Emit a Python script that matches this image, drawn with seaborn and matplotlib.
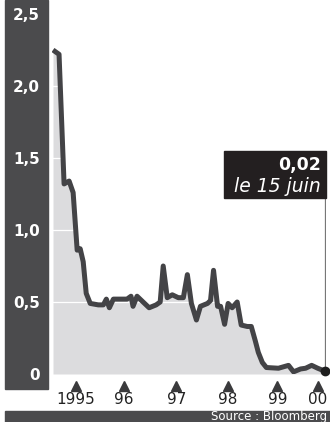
import matplotlib
matplotlib.use("Agg")
import matplotlib.pyplot as plt
import matplotlib.transforms as mtransforms
from matplotlib.patches import Rectangle
import numpy as np
import pandas as pd
import seaborn as sns

# taux (en %)
dates = [1995.04, 1995.16, 1995.26, 1995.36, 1995.44, 1995.52, 1995.58, 1995.64,
         1995.70, 1995.78, 1995.94, 1996.04, 1996.10, 1996.16, 1996.24, 1996.38,
         1996.51, 1996.59, 1996.63, 1996.71, 1996.83, 1996.95, 1997.09, 1997.17,
         1997.23, 1997.31, 1997.41, 1997.53, 1997.63, 1997.71, 1997.79, 1997.89,
         1997.97, 1998.11, 1998.17, 1998.23, 1998.31, 1998.37, 1998.45, 1998.52,
         1998.60, 1998.70, 1998.78, 1998.90, 1998.98, 1999.06, 1999.12, 1999.20,
         1999.28, 1999.52, 1999.72, 1999.82, 1999.96, 2000.06, 2000.18, 2000.30,
         2000.44]
rates = [2.25, 2.22, 1.32, 1.34, 1.26, 0.86, 0.87, 0.78,
         0.56, 0.49, 0.48, 0.48, 0.52, 0.46, 0.52, 0.52,
         0.52, 0.54, 0.47, 0.54, 0.50, 0.46, 0.48, 0.50,
         0.75, 0.53, 0.55, 0.53, 0.53, 0.69, 0.49, 0.375,
         0.47, 0.49, 0.51, 0.72, 0.47, 0.47, 0.345, 0.49,
         0.46, 0.50, 0.34, 0.33, 0.33, 0.23, 0.15, 0.08,
         0.045, 0.04, 0.06, 0.015, 0.035, 0.04, 0.06, 0.04,
         0.02]

year_ticks = [1995.5, 1996.45, 1997.49, 1998.52, 1999.5, 2000.3]
year_labels = ["1995", "96", "97", "98", "99", "00"]
y_ticks = [0, 0.5, 1.0, 1.5, 2.0, 2.5]
y_labels = ["0", "0,5", "1,0", "1,5", "2,0", "2,5"]

df = pd.DataFrame({"date": dates, "taux": rates})

sns.set_style("white")
plt.rcParams["font.family"] = ["DejaVu Sans"]

dark = "#4b4b4d"
line_col = "#434346"
fill_col = "#dcdcde"

fig = plt.figure(figsize=(3.3, 4.22), dpi=100)
ax = fig.add_axes([52 / 330, 48 / 422, 274 / 330, 374 / 422])

# panneau gris foncé à gauche et bandeau source
fig.add_artist(Rectangle((5 / 330, 33 / 422), 43 / 330, 389 / 422,
                         transform=fig.transFigure, color=dark, zorder=-1))
fig.add_artist(Rectangle((5 / 330, 0), 325 / 330, 11 / 422,
                         transform=fig.transFigure, color=dark, zorder=-1))
fig.text(327 / 330, 5.5 / 422, "Source : Bloomberg", color="white",
         fontsize=8.5, ha="right", va="center")

ax.fill_between(df["date"], df["taux"], 0, color=fill_col, lw=0, zorder=1)
ax.hlines(y_ticks[1:], 1994, 2001, color="white", lw=0.9, zorder=1.5)
sns.lineplot(data=df, x="date", y="taux", ax=ax, color=line_col, lw=3.6,
             zorder=2, solid_joinstyle="round", solid_capstyle="butt")

# dernier point et encadré
last_x, last_v = dates[-1], rates[-1]
ax.vlines(last_x, last_v, 1.22, color="#777777", lw=0.9, zorder=1.8)
ax.plot([last_x], [last_v], "o", color="#1e1e1e", ms=6, zorder=3, clip_on=False)
fig.add_artist(Rectangle((224 / 330, 224 / 422), 102 / 330, 47 / 422,
                         transform=fig.transFigure, color="#231f20", zorder=5))
fig.text(321 / 330, (422 - 165) / 422, "0,02", color="white", fontsize=12.5,
         fontweight="bold", ha="right", va="center", zorder=6)
fig.text(321 / 330, (422 - 187) / 422, "le 15 juin", color="white", fontsize=13.5,
         style="italic", ha="right", va="center", zorder=6)

ax.set_xlim(1995.02, 2000.465)
ax.set_ylim(0, 374 / 144)
for s in ax.spines.values():
    s.set_visible(False)
ax.set_facecolor("none")
ax.set_xlabel("")
ax.set_ylabel("")

ax.set_yticks(y_ticks)
ax.set_yticklabels(y_labels)
ax.tick_params(axis="y", length=0, pad=8.5, labelcolor="white", labelsize=11)
for lab in ax.get_yticklabels():
    lab.set_fontweight("bold")

ax.set_xticks(year_ticks)
ax.set_xticklabels(year_labels)
ax.tick_params(axis="x", length=0, pad=13, labelcolor="#222222", labelsize=11)

# petits triangles sous l'axe
trans = mtransforms.blended_transform_factory(ax.transData, ax.transAxes)
ax.plot(year_ticks, [-0.031] * len(year_ticks), "^", color="#3a3a3c", ms=6.5,
        transform=trans, clip_on=False)

fig.savefig("out.png", dpi=100)
